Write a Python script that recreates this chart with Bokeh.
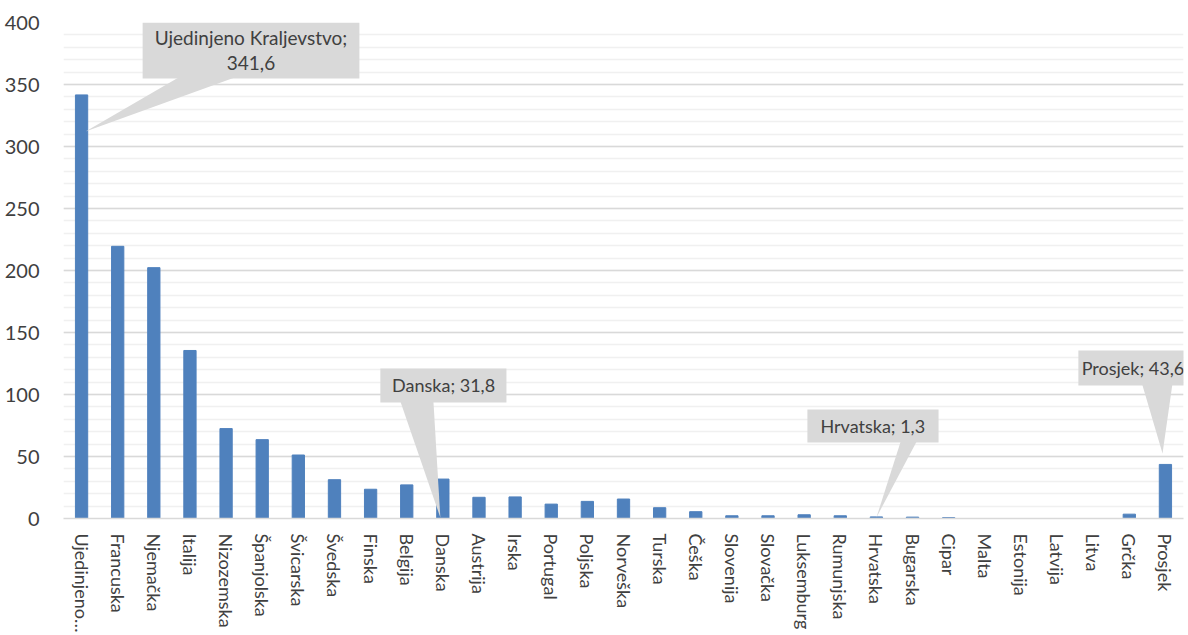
from bokeh.plotting import figure
from bokeh.models import Range1d, FixedTicker, SingleIntervalTicker
from bokeh.core.properties import value
from bokeh.embed import file_html
from bokeh.resources import INLINE

# ---- data ----
countries = ["Ujedinjeno Kraljevstvo", "Francuska", "Njemačka", "Italija", "Nizozemska",
             "Španjolska", "Švicarska", "Švedska", "Finska", "Belgija", "Danska",
             "Austrija", "Irska", "Portugal", "Poljska", "Norveška", "Turska", "Češka",
             "Slovenija", "Slovačka", "Luksemburg", "Rumunjska", "Hrvatska", "Bugarska",
             "Cipar", "Malta", "Estonija", "Latvija", "Litva", "Grčka", "Prosjek"]
tick_labels = ["Ujedinjeno…", "Francuska", "Njemačka", "Italija", "Nizozemska",
               "Španjolska", "Švicarska", "Švedska", "Finska", "Belgija", "Danska",
               "Austrija", "Irska", "Portugal", "Poljska", "Norveška", "Turska", "Češka",
               "Slovenija", "Slovačka", "Luksemburg", "Rumunjska", "Hrvatska", "Bugarska",
               "Cipar", "Malta", "Estonija", "Latvija", "Litva", "Grčka", "Prosjek"]
values = [341.6, 219.5, 202.3, 135.5, 72.5,
          63.6, 51.2, 31.3, 23.6, 27.1, 31.8,
          17.1, 17.4, 11.6, 13.8, 15.7, 8.7, 5.5,
          2.2, 2.2, 3.0, 2.2, 1.3, 1.1,
          0.7, 0.0, 0.0, 0.0, 0.0, 3.5, 43.6]
y_ticks_interval = 50

# ---- callout layout (styling, in data units) ----
callouts = [
    dict(name="Ujedinjeno Kraljevstvo", lines=2, box=(1.69, 7.69, 354.8, 400.0),
         base=(2.66, 4.2), tip_dx=0.11, tip_y=312.0, text_xy=(4.69, 377.5)),
    dict(name="Danska", lines=1, box=(8.27, 11.76, 93.5, 121.0),
         base=(8.83, 9.74), tip_dx=-0.07, tip_y=0.8, text_xy=(10.02, 107.3)),
    dict(name="Hrvatska", lines=1, box=(20.09, 23.72, 61.3, 87.9),
         base=(22.67, 23.11), tip_dx=0.0, tip_y=0.8, text_xy=(21.9, 74.6)),
    dict(name="Prosjek", lines=1, box=(27.59, 30.8, 107.3, 135.5),
         base=(29.36, 30.19), tip_dx=-0.08, tip_y=52.4, text_xy=(29.1, 121.4)),
]

FONT = "Lato"
TXT = "#404040"
BAR = "#4f81bd"

def fmt(v):
    return f"{v:.1f}".replace(".", ",")

p = figure(width=1188, height=635, output_backend="svg", toolbar_location=None,
           x_range=Range1d(-0.5, 30.5), y_range=Range1d(0, 400),
           min_border_left=63, min_border_top=22, min_border_right=5, min_border_bottom=117)
p.outline_line_color = None
p.background_fill_color = "white"

idx = list(range(len(countries)))
p.vbar(x=idx, top=values, width=0.34, color=BAR)

# callouts
for c in callouts:
    i = countries.index(c["name"])
    x0, x1, y0, y1 = c["box"]
    p.patch([x0, x1, x1, x0], [y0, y0, y1, y1], fill_color="#d9d9d9", line_color=None)
    b0, b1 = c["base"]
    p.patch([b0, b1, i + c["tip_dx"]], [y0 + 0.5, y0 + 0.5, c["tip_y"]],
            fill_color="#d9d9d9", line_color=None)
    tx, ty = c["text_xy"]
    if c["lines"] == 2:
        p.text([tx, tx], [ty + 10.2, ty - 10.2], text=[c["name"] + ";", fmt(values[i])],
               text_font=value(FONT), text_font_size="19px", text_color=TXT,
               text_align="center", text_baseline="middle")
    else:
        p.text([tx], [ty], text=[f"{c['name']}; {fmt(values[i])}"],
               text_font=value(FONT), text_font_size="18px", text_color=TXT,
               text_align="center", text_baseline="middle")

# axes
xa = p.xaxis[0]
xa.ticker = FixedTicker(ticks=idx)
xa.major_label_overrides = {i: lab for i, lab in enumerate(tick_labels)}
xa.major_label_orientation = "vertical"
xa.major_label_text_font = FONT
xa.major_label_text_font_size = "18px"
xa.major_label_text_color = TXT
xa.major_label_standoff = 9
xa.major_tick_line_color = None
xa.minor_tick_line_color = None
xa.axis_line_color = "#d9d9d9"
xa.axis_line_width = 1.3

ya = p.yaxis[0]
ya.ticker = SingleIntervalTicker(interval=y_ticks_interval, num_minor_ticks=5)
ya.major_label_text_font = FONT
ya.major_label_text_font_size = "20px"
ya.major_label_text_color = TXT
ya.major_label_standoff = 18
ya.major_tick_line_color = None
ya.minor_tick_line_color = None
ya.axis_line_color = None

p.xgrid.grid_line_color = None
p.ygrid.grid_line_color = "#d9d9d9"
p.ygrid.grid_line_width = 1.3
p.ygrid.minor_grid_line_color = "#f0f0f0"
p.ygrid.minor_grid_line_width = 1.3

open("out.html", "w").write(file_html(p, INLINE))
